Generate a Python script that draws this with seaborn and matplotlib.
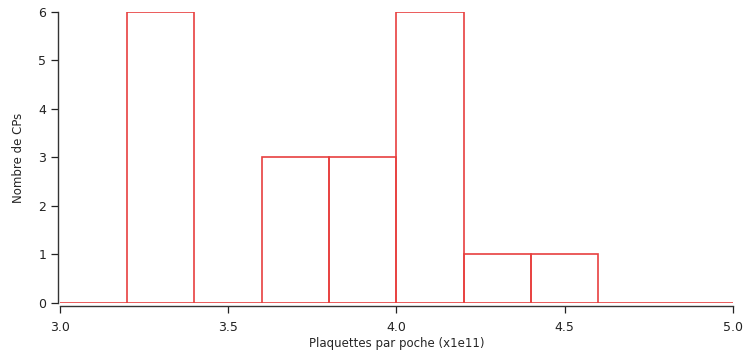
import matplotlib
matplotlib.use('Agg')
import matplotlib.pyplot as plt
import seaborn as sns
import numpy as np

# histogram bins (x1e11 plaquettes) and counts
bin_edges = [3.0, 3.2, 3.4, 3.6, 3.8, 4.0, 4.2, 4.4, 4.6, 4.8, 5.0]
counts = [0, 6, 0, 3, 3, 6, 1, 1, 0, 0]
bin_centers = [(a + b) / 2 for a, b in zip(bin_edges[:-1], bin_edges[1:])]

sns.set_style('ticks')
plt.rcParams['font.family'] = ['DejaVu Sans']

fig = plt.figure(figsize=(7.45, 3.53), dpi=100)
ax = fig.add_axes([0.080, 0.142, 0.904, 0.824])

sns.histplot(x=bin_centers, weights=counts, bins=bin_edges, fill=False,
             element='bars', color='#e8403f', linewidth=1.2, ax=ax)

ax.set_xlim(3.0, 5.0)
ax.set_ylim(0, 6)
ax.set_xticks([3.0, 3.5, 4.0, 4.5, 5.0])
ax.set_xticklabels(['3.0', '3.5', '4.0', '4.5', '5.0'])
ax.set_yticks(range(0, 7))
ax.tick_params(labelsize=9, length=5, width=0.9, colors='#222222')
ax.tick_params(axis='x', pad=6)
ax.set_xlabel('Plaquettes par poche (x1e11)', fontsize=8.5, labelpad=2)
ax.set_ylabel('Nombre de CPs', fontsize=8.5, labelpad=10)
for s in ['left', 'bottom']:
    ax.spines[s].set_linewidth(1.0)
    ax.spines[s].set_color('#333333')
sns.despine(ax=ax)
ax.spines['bottom'].set_position(('outward', 2))
ax.spines['left'].set_position(('outward', 1))

fig.savefig('out.png', dpi=100)
